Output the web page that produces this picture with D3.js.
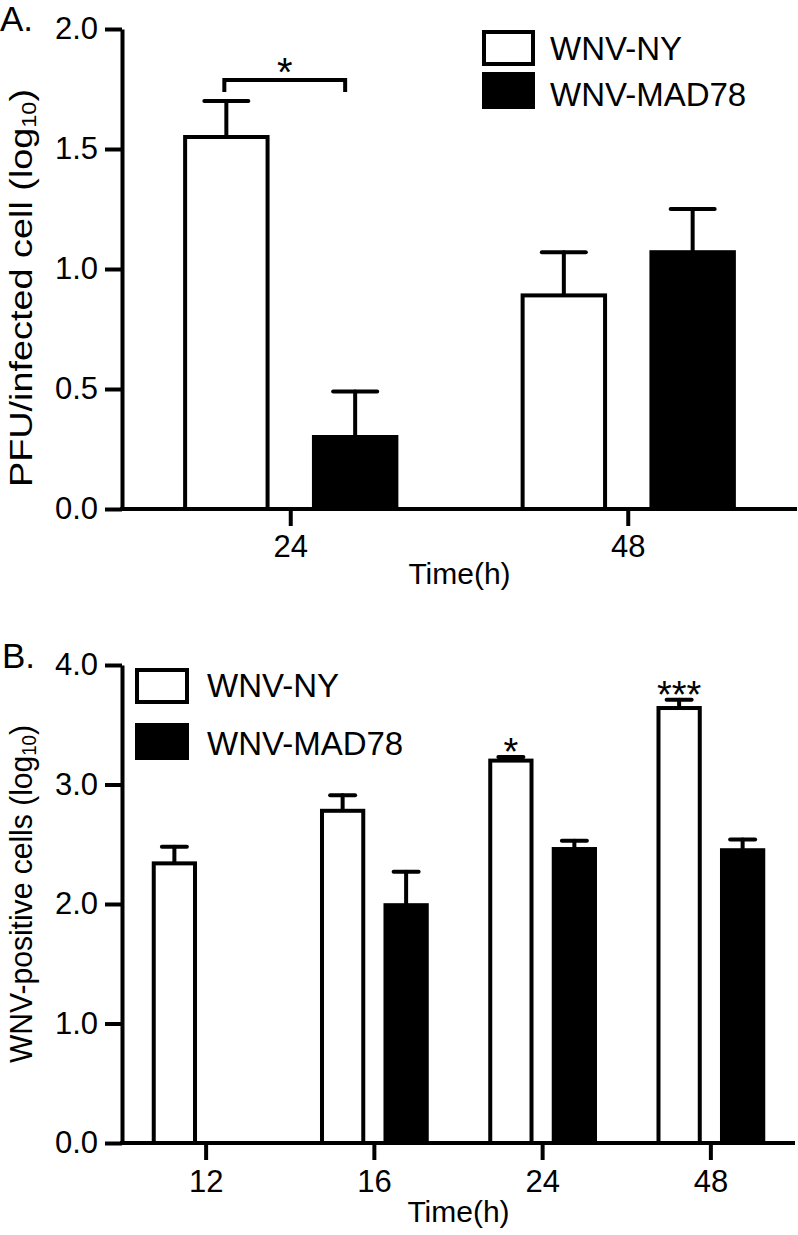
<!DOCTYPE html>
<html>
<head>
<meta charset="utf-8">
<script src="https://cdn.jsdelivr.net/npm/d3@7"></script>
<style>
  html, body { margin: 0; padding: 0; background: #fff; }
  svg text { font-family: "Liberation Sans", Arial, Helvetica, sans-serif; fill: #000; }
</style>
</head>
<body>
<svg id="chart" width="798" height="1235"></svg>
<script>
// ---------- data ----------
const seriesNames = ["WNV-NY", "WNV-MAD78"];

const aCategories = ["24", "48"];
const aNY = [1.55, 0.89];
const aNYErr = [0.15, 0.18];
const aMAD = [0.30, 1.07];
const aMADErr = [0.19, 0.18];
const aTicks = [0.0, 0.5, 1.0, 1.5, 2.0];

const bCategories = ["12", "16", "24", "48"];
const bNY = [2.34, 2.78, 3.20, 3.64];
const bNYErr = [0.14, 0.13, 0.03, 0.07];
const bMAD = [0, 1.99, 2.46, 2.45];
const bMADErr = [0, 0.28, 0.07, 0.09];
const bTicks = [0.0, 1.0, 2.0, 3.0, 4.0];

const bSignif = ["", "", "*", "***"];

// ---------- drawing ----------
const svg = d3.select("#chart");
const SW = 4;

function drawPanel(cfg) {
  const g = svg.append("g");
  const x0 = d3.scaleBand().domain(cfg.categories).range([cfg.left, cfg.right]).padding(0);
  const x1 = d3.scaleBand().domain(seriesNames).range([0, x0.bandwidth()])
    .paddingInner(cfg.pIn).paddingOuter(cfg.pOut);
  const y = d3.scaleLinear().domain([0, cfg.ymax]).range([cfg.bottom, cfg.top]);

  const rows = [];
  cfg.categories.forEach((c, i) => {
    rows.push({cat: c, s: seriesNames[0], v: cfg.ny[i], e: cfg.nyErr[i], fill: "#fff"});
    rows.push({cat: c, s: seriesNames[1], v: cfg.mad[i], e: cfg.madErr[i], fill: "#000"});
  });
  const shown = rows.filter(d => d.v > 0);

  // error bars (upward only)
  const eb = g.append("g").attr("stroke", "#000").attr("stroke-width", SW).attr("stroke-linecap", "round");
  shown.forEach(d => {
    const cx = x0(d.cat) + x1(d.s) + x1.bandwidth() / 2;
    eb.append("line").attr("x1", cx).attr("x2", cx).attr("y1", y(d.v)).attr("y2", y(d.v + d.e));
    eb.append("line").attr("x1", cx - cfg.cap / 2).attr("x2", cx + cfg.cap / 2)
      .attr("y1", y(d.v + d.e)).attr("y2", y(d.v + d.e));
  });

  // bars
  g.append("g").selectAll("rect").data(shown).join("rect")
    .attr("x", d => x0(d.cat) + x1(d.s))
    .attr("width", x1.bandwidth())
    .attr("y", d => y(d.v))
    .attr("height", d => y(0) - y(d.v))
    .attr("fill", d => d.fill)
    .attr("stroke", "#000")
    .attr("stroke-width", SW);

  // y axis
  const yAxis = d3.axisLeft(y).tickValues(cfg.ticks).tickFormat(d3.format(".1f"))
    .tickSize(17).tickSizeOuter(0).tickPadding(7);
  const ya = g.append("g").attr("transform", `translate(${cfg.left},0)`).call(yAxis);
  ya.select(".domain").attr("stroke-width", SW).attr("stroke", "#000");
  ya.selectAll(".tick line").attr("stroke-width", SW).attr("stroke", "#000");
  ya.selectAll(".tick text").attr("font-size", 31).attr("font-family", null);

  // x axis
  const xAxis = d3.axisBottom(x0).tickSize(17).tickSizeOuter(0);
  const xa = g.append("g").attr("transform", `translate(0,${cfg.bottom})`).call(xAxis);
  xa.select(".domain").attr("stroke-width", SW).attr("stroke", "#000")
    .attr("d", `M${cfg.left - SW / 2},0H${cfg.right}`);
  xa.selectAll(".tick line").attr("stroke-width", SW).attr("stroke", "#000");
  xa.selectAll(".tick text").attr("font-size", 31).attr("font-family", null)
    .attr("dy", 0).attr("y", cfg.xTickBase);
  g.selectAll(".tick text").attr("fill", "#000");

  // x title
  g.append("text").attr("x", (cfg.left + cfg.right) / 2).attr("y", cfg.bottom + cfg.xTitleOff)
    .attr("text-anchor", "middle").attr("font-size", 30).text("Time(h)");

  // y title
  const yt = g.append("text")
    .attr("transform", `translate(${cfg.yTitleX},${cfg.yTitleCY}) rotate(-90)`)
    .attr("text-anchor", "middle").attr("font-size", cfg.yTitleSize);
  if (cfg.yTitleLen) yt.attr("textLength", cfg.yTitleLen).attr("lengthAdjust", "spacingAndGlyphs");
  yt.append("tspan").text(cfg.yTitle + " (log");
  yt.append("tspan").attr("font-size", cfg.yTitleSize * 0.62).attr("dy", 4).text("10");
  yt.append("tspan").attr("dy", -4).text(")");

  // panel label
  g.append("text").attr("x", cfg.labelX).attr("y", cfg.labelY).attr("font-size", 35).text(cfg.label);

  // legend
  const lg = g.append("g");
  lg.append("rect").attr("x", cfg.leg.x + 2).attr("y", cfg.leg.y1 + 2)
    .attr("width", cfg.leg.w - 4).attr("height", cfg.leg.h - 4)
    .attr("fill", "#fff").attr("stroke", "#000").attr("stroke-width", SW);
  lg.append("rect").attr("x", cfg.leg.x).attr("y", cfg.leg.y2)
    .attr("width", cfg.leg.w).attr("height", cfg.leg.h + 1).attr("fill", "#000");
  lg.append("text").attr("x", cfg.leg.tx).attr("y", cfg.leg.t1).attr("font-size", 33).text(seriesNames[0]);
  lg.append("text").attr("x", cfg.leg.tx).attr("y", cfg.leg.t2).attr("font-size", 33).text(seriesNames[1]);

  return {g, x0, x1, y};
}

// Panel A
const A = drawPanel({
  categories: aCategories, ny: aNY, nyErr: aNYErr, mad: aMAD, madErr: aMADErr,
  ticks: aTicks, ymax: 2.0, left: 122, right: 797, top: 29, bottom: 509,
  pIn: 0.36, pOut: 0.49, cap: 44, xTickBase: 48, xTitleOff: 75,
  yTitle: "PFU/infected cell", yTitleX: 32, yTitleCY: 288, yTitleSize: 32, yTitleLen: 398,
  label: "A.", labelX: 0, labelY: 31,
  leg: {x: 482, y1: 30, y2: 72, w: 53, h: 36, tx: 550, t1: 60, t2: 106}
});

// significance bracket in A (WNV-NY vs WNV-MAD78 at 24 h)
{
  const c = aCategories[0];
  const xl = A.x0(c) + A.x1(seriesNames[0]) + A.x1.bandwidth() / 2 - 2;
  const xr = A.x0(c) + A.x1(seriesNames[1]) + A.x1.bandwidth() / 2 - 10;
  const yb = A.y(aNY[0] + aNYErr[0]) - 21;
  A.g.append("path").attr("d", `M${xl},${yb + 12}V${yb}H${xr}V${yb + 12}`)
    .attr("fill", "none").attr("stroke", "#000").attr("stroke-width", SW);
  A.g.append("text").attr("x", (xl + xr) / 2).attr("y", yb + 6).attr("text-anchor", "middle")
    .attr("font-size", 40).text("*");
}

// Panel B
const B = drawPanel({
  categories: bCategories, ny: bNY, nyErr: bNYErr, mad: bMAD, madErr: bMADErr,
  ticks: bTicks, ymax: 4.0, left: 122, right: 795, top: 665, bottom: 1143,
  pIn: 0.35, pOut: 0.5, cap: 25, xTickBase: 49, xTitleOff: 79,
  yTitle: "WNV-positive cells", yTitleX: 32, yTitleCY: 894, yTitleSize: 32, yTitleLen: 338,
  label: "B.", labelX: 2, labelY: 668,
  leg: {x: 135, y1: 668, y2: 723, w: 54, h: 36, tx: 207, t1: 697, t2: 755}
});

// significance stars in B
bCategories.forEach((c, i) => {
  if (!bSignif[i]) return;
  const cx = B.x0(c) + B.x1(seriesNames[0]) + B.x1.bandwidth() / 2;
  B.g.append("text").attr("x", cx).attr("y", B.y(bNY[i] + bNYErr[i]) + 8)
    .attr("text-anchor", "middle").attr("font-size", 38).text(bSignif[i]);
});
</script>
</body>
</html>
